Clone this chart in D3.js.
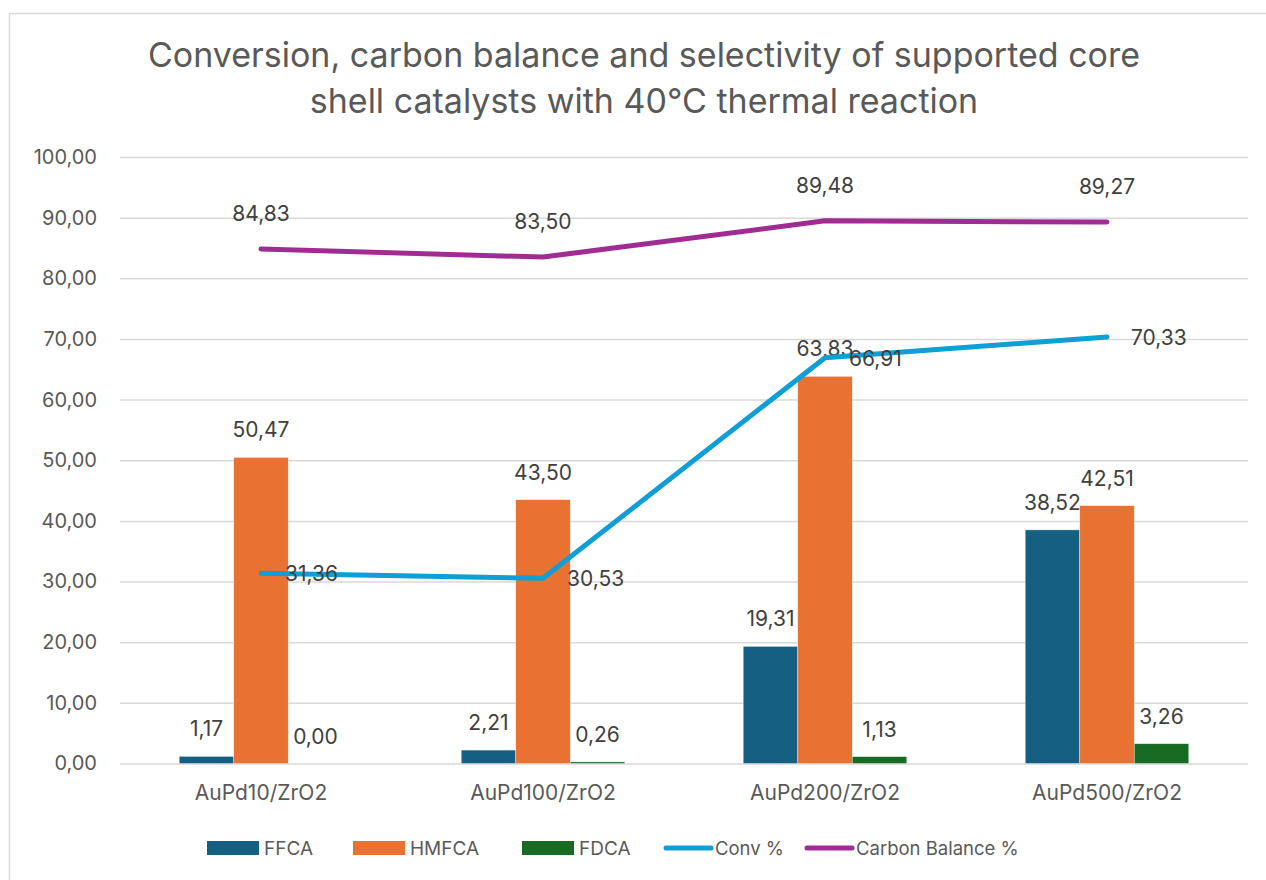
<!DOCTYPE html>
<html>
<head>
<meta charset="utf-8">
<script src="https://cdn.jsdelivr.net/npm/d3@7"></script>
<style>
  html, body { margin: 0; padding: 0; background: #fff; }
  svg { display: block; }
  text { font-family: Inter, "Liberation Sans", sans-serif; }
</style>
</head>
<body>
<svg id="chart" width="1266" height="880"></svg>
<script>
// Catalysts on the x axis
const categories = ["AuPd10/ZrO2", "AuPd100/ZrO2", "AuPd200/ZrO2", "AuPd500/ZrO2"];

// Selectivity bars (%)
const ffca  = [1.17, 2.21, 19.31, 38.52];
const hmfca = [50.47, 43.50, 63.83, 42.51];
const fdca  = [0.00, 0.26, 1.13, 3.26];

// Lines (%)
const conv = [31.36, 30.53, 66.91, 70.33];
const carbonBalance = [84.83, 83.50, 89.48, 89.27];

// Y axis ticks
const yTicks = [0, 10, 20, 30, 40, 50, 60, 70, 80, 90, 100];

const barSeries = [
  { name: "FFCA", values: ffca, color: "#156082" },
  { name: "HMFCA", values: hmfca, color: "#E97132" },
  { name: "FDCA", values: fdca, color: "#196B24" }
];
const lineSeries = [
  { name: "Conv %", values: conv, color: "#0F9ED5", label: "right" },
  { name: "Carbon Balance %", values: carbonBalance, color: "#A02B93", label: "above" }
];

const fmt = v => v.toFixed(2).replace(".", ",");
const FONT = "Inter, 'Liberation Sans', sans-serif";

const svg = d3.select("#chart");
const plot = { left: 120, right: 1248, top: 157, bottom: 763.5 };

// chart frame
svg.append("rect")
  .attr("x", 9.5).attr("y", 13.5)
  .attr("width", 1300).attr("height", 900)
  .attr("fill", "#fff")
  .attr("stroke", "#d9d9d9").attr("stroke-width", 1.5);

// title
const title = svg.append("text")
  .attr("x", 644).attr("text-anchor", "middle")
  .attr("fill", "#595959").attr("font-size", 34);
title.append("tspan").attr("x", 644).attr("y", 67)
  .text("Conversion, carbon balance and selectivity of supported core");
title.append("tspan").attr("x", 644).attr("y", 113)
  .text("shell catalysts with 40°C thermal reaction");

const y = d3.scaleLinear().domain([0, 100]).range([plot.bottom, plot.top]);
const x0 = d3.scaleBand().domain(categories).range([plot.left, plot.right]);
const bw = x0.bandwidth();
const gap = bw * 0.21;
const x1 = d3.scaleBand().domain(barSeries.map(s => s.name)).range([gap, bw - gap]);

// gridlines + y labels
const yAxis = d3.axisLeft(y).tickValues(yTicks).tickFormat(fmt)
  .tickSize(-(plot.right - plot.left)).tickPadding(23);
const gy = svg.append("g").attr("transform", `translate(${plot.left},0)`).call(yAxis);
gy.select(".domain").remove();
gy.selectAll(".tick line").attr("stroke", "#d9d9d9").attr("stroke-width", 1.5);
gy.selectAll(".tick text").attr("fill", "#595959").attr("font-size", 20)
  .attr("font-family", FONT);

// x category labels
const xAxis = d3.axisBottom(x0).tickSize(0).tickPadding(22);
const gx = svg.append("g").attr("transform", `translate(0,${plot.bottom})`).call(xAxis);
gx.select(".domain").remove();
gx.selectAll(".tick text").attr("fill", "#595959").attr("font-size", 21)
  .attr("font-family", FONT);

// bars
const groups = svg.append("g").selectAll("g")
  .data(categories).join("g")
  .attr("transform", c => `translate(${x0(c)},0)`);

barSeries.forEach(s => {
  groups.append("rect")
    .attr("x", x1(s.name))
    .attr("y", (c, i) => y(s.values[i]))
    .attr("width", x1.bandwidth())
    .attr("height", (c, i) => y(0) - y(s.values[i]))
    .attr("fill", s.color)
    .attr("stroke", "#fff").attr("stroke-width", 0.6).attr("stroke-opacity", 0.6);
  groups.append("text")
    .attr("x", x1(s.name) + x1.bandwidth() / 2)
    .attr("y", (c, i) => y(s.values[i]) - 20)
    .attr("text-anchor", "middle")
    .attr("fill", "#404040").attr("font-size", 21)
    .text((c, i) => fmt(s.values[i]));
});

// lines
const cx = c => x0(c) + bw / 2;
lineSeries.forEach(s => {
  const line = d3.line().x((d, i) => cx(categories[i])).y(d => y(d));
  svg.append("path")
    .datum(s.values)
    .attr("d", line)
    .attr("fill", "none")
    .attr("stroke", s.color).attr("stroke-width", 5)
    .attr("stroke-linecap", "round").attr("stroke-linejoin", "round");
});

// line labels
lineSeries.forEach(s => {
  svg.append("g").selectAll("text")
    .data(s.values).join("text")
    .attr("x", (d, i) => s.label === "right" ? cx(categories[i]) + 24 : cx(categories[i]))
    .attr("y", d => s.label === "right" ? y(d) + 8 : y(d) - 28)
    .attr("text-anchor", s.label === "right" ? "start" : "middle")
    .attr("fill", "#404040").attr("font-size", 21)
    .text(d => fmt(d));
});

// legend
const legendY = 848;
const legendItems = [
  { s: barSeries[0], x: 207, type: "bar" },
  { s: barSeries[1], x: 353, type: "bar" },
  { s: barSeries[2], x: 522, type: "bar" },
  { s: lineSeries[0], x: 666, type: "line" },
  { s: lineSeries[1], x: 807, type: "line" }
];
const lg = svg.append("g");
legendItems.forEach(it => {
  if (it.type === "bar") {
    lg.append("rect").attr("x", it.x).attr("y", legendY - 7)
      .attr("width", 52).attr("height", 14).attr("fill", it.s.color);
    lg.append("text").attr("x", it.x + 57).attr("y", legendY + 7)
      .attr("fill", "#595959").attr("font-size", 19).text(it.s.name);
  } else {
    lg.append("line").attr("x1", it.x).attr("x2", it.x + 45)
      .attr("y1", legendY).attr("y2", legendY)
      .attr("stroke", it.s.color).attr("stroke-width", 5).attr("stroke-linecap", "round");
    lg.append("text").attr("x", it.x + 49).attr("y", legendY + 7)
      .attr("fill", "#595959").attr("font-size", 18.5).text(it.s.name);
  }
});
</script>
</body>
</html>
